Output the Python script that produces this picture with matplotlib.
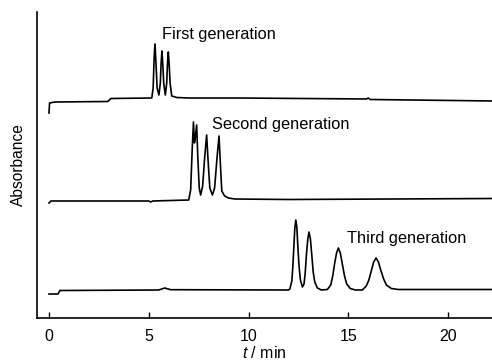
import matplotlib
matplotlib.use("Agg")
import matplotlib.pyplot as plt

plt.rcParams['font.family'] = ['Liberation Sans', 'DejaVu Sans']
plt.rcParams['mathtext.fontset'] = 'custom'
plt.rcParams['mathtext.it'] = 'Liberation Sans:italic'
plt.rcParams['mathtext.rm'] = 'Liberation Sans'

# ---- data (time in min, absorbance in arbitrary offset units) ----
t_first = [0.0, 0.03, 0.3, 2.95, 3.1, 5.15, 5.22, 5.27, 5.31, 5.35, 5.42, 5.51,
           5.58, 5.62, 5.66, 5.70, 5.75, 5.83, 5.90, 5.94, 5.98, 6.02, 6.07,
           6.15, 6.4, 7.0, 9.5, 15.9, 16.0, 16.1, 22.3]
a_first = [2.05, 2.15, 2.16, 2.165, 2.195, 2.20, 2.30, 2.60, 2.74, 2.60, 2.30, 2.23,
           2.35, 2.55, 2.67, 2.55, 2.35, 2.23, 2.35, 2.55, 2.66, 2.55, 2.35,
           2.22, 2.205, 2.20, 2.20, 2.19, 2.20, 2.185, 2.17]

t_second = [0.0, 0.1, 5.0, 5.1, 5.2, 7.0, 7.1, 7.18, 7.24, 7.29, 7.33, 7.40, 7.46,
            7.53, 7.60, 7.70, 7.80, 7.90, 7.98, 8.06, 8.19, 8.30, 8.42, 8.52,
            8.60, 8.66, 8.80, 9.0, 9.3, 12.0, 22.3]
a_second = [1.15, 1.17, 1.17, 1.16, 1.17, 1.18, 1.28, 1.70, 1.96, 1.75, 1.80, 1.93, 1.60,
            1.30, 1.23, 1.32, 1.60, 1.83, 1.55, 1.30, 1.23, 1.30, 1.60, 1.82,
            1.50, 1.27, 1.22, 1.20, 1.19, 1.185, 1.195]

t_third = [0.0, 0.45, 0.55, 5.5, 5.8, 6.1, 12.0,
           12.07, 12.17, 12.22, 12.27, 12.32, 12.37, 12.42, 12.47, 12.53, 12.60, 12.70,
           12.78, 12.84, 12.90, 12.97, 13.03, 13.10, 13.17, 13.24, 13.32, 13.45, 13.65,
           13.95, 14.12, 14.22, 14.31, 14.41, 14.50, 14.60, 14.70, 14.81, 14.92, 15.10, 15.35,
           15.70, 15.90, 16.03, 16.15, 16.27, 16.39, 16.51, 16.64, 16.77, 16.91, 17.15, 17.5,
           22.3]
a_third = [0.24, 0.24, 0.275, 0.28, 0.30, 0.283, 0.28,
           0.29, 0.37, 0.51, 0.71, 0.90, 0.98, 0.91, 0.72, 0.52, 0.38, 0.31,
           0.34, 0.45, 0.63, 0.79, 0.86, 0.79, 0.63, 0.46, 0.36, 0.30, 0.28,
           0.285, 0.33, 0.42, 0.54, 0.65, 0.70, 0.65, 0.54, 0.42, 0.34, 0.295, 0.28,
           0.28, 0.32, 0.38, 0.47, 0.56, 0.60, 0.56, 0.47, 0.39, 0.33, 0.295, 0.285,
           0.285]

labels = ["First generation", "Second generation", "Third generation"]
label_pos = [(5.66, 2.79), (8.17, 1.895), (14.92, 0.747)]
xticks = [0, 5, 10, 15, 20]

# ---- figure ----
fig = plt.figure(figsize=(4.92, 3.61), dpi=100)
ax = fig.add_axes([37/492, 43/361, 1 - 37/492, (318-12)/361])

for t, a in [(t_first, a_first), (t_second, a_second), (t_third, a_third)]:
    ax.plot(t, a, color='black', lw=1.2, solid_joinstyle='round')

for lab, (x, y) in zip(labels, label_pos):
    ax.text(x, y, lab, fontsize=11.8, va='baseline', ha='left')

ax.set_xlim(-0.6, 22.2)
ax.set_ylim(0, 3.06)
ax.set_xticks(xticks)
ax.set_xticklabels([str(v) for v in xticks])
ax.set_yticks([])
ax.tick_params(axis='x', direction='in', length=4, width=1, pad=8, labelsize=11.5)
for s in ['top', 'right']:
    ax.spines[s].set_visible(False)
for s in ['left', 'bottom']:
    ax.spines[s].set_linewidth(1.2)

ax.set_xlabel('$t$ / min', fontsize=11.5, labelpad=1)
ax.set_ylabel('Absorbance', fontsize=11.2, labelpad=8)

fig.savefig('out.png', dpi=100)
